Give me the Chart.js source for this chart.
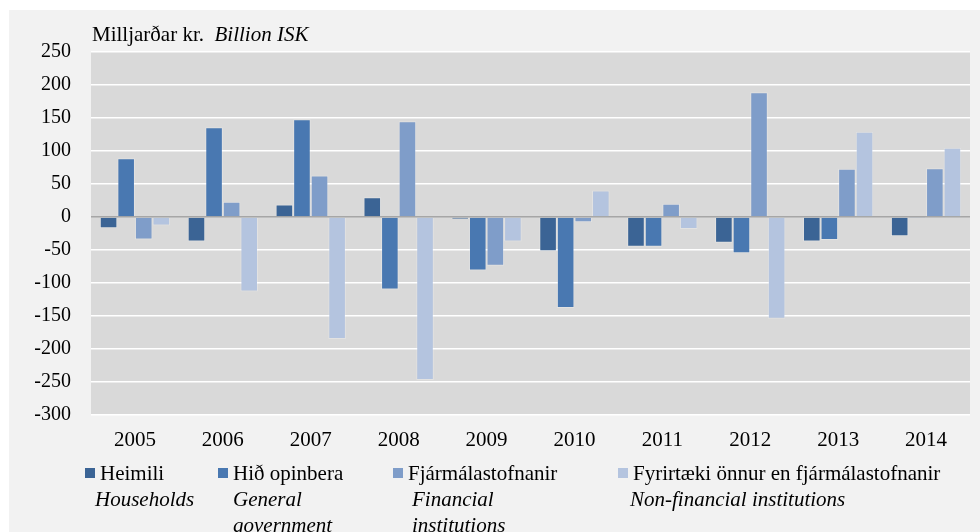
<!DOCTYPE html>
<html>
<head>
<meta charset="utf-8">
<script src="https://cdn.jsdelivr.net/npm/chart.js@4"></script>
<style>
  html, body { margin: 0; padding: 0; background: #ffffff; }
  #wrap { width: 980px; height: 532px; position: relative; }
</style>
</head>
<body>
<div id="wrap"><canvas id="flowChart" width="980" height="532"></canvas></div>
<script>
const years = ['2005', '2006', '2007', '2008', '2009', '2010', '2011', '2012', '2013', '2014'];

const households = [-17, -37, 19, 30, -3, -52, -45, -39, -37, -29];
const government = [89, 136, 148, -110, -81, -138, -45, -55, -35, -2];
const financial = [-34, 23, 63, 145, -74, -8, 20, 189, 73, 74];
const nonFinancial = [-13, -113, -185, -247, -37, 40, -18, -154, 129, 105];

const seriesIs = ['Heimili', 'Hið opinbera', 'Fjármálastofnanir', 'Fyrirtæki önnur en fjármálastofnanir'];
const seriesEn = [['Households'], ['General', 'government'], ['Financial', 'institutions'], ['Non-financial institutions']];
const colors = ['#3b6495', '#4978b1', '#7f9dc9', '#b4c4df'];

const yMin = -300;
const yMax = 250;
const yStep = 50;

const serif = '"Liberation Serif", "Times New Roman", serif';

// backgrounds: grey panel + darker plot area
const backdrop = {
    id: 'backdrop',
    beforeDraw(chart) {
        const c = chart.ctx;
        const a = chart.chartArea;
        c.save();
        c.fillStyle = '#ffffff';
        c.fillRect(0, 0, chart.width, chart.height);
        c.fillStyle = '#f2f2f2';
        c.fillRect(9, 10, chart.width - 9, chart.height - 10);
        c.fillStyle = '#d9d9d9';
        c.fillRect(a.left, a.top, a.right - a.left, a.bottom - a.top);
        c.restore();
    },
    afterDraw(chart) {
        const c = chart.ctx;
        c.save();
        c.fillStyle = '#000000';
        c.textBaseline = 'middle';
        // unit label
        c.font = '21px ' + serif;
        c.fillText('Milljarðar kr.', 92, 35);
        const w = c.measureText('Milljarðar kr.  ').width;
        c.font = 'italic 21px ' + serif;
        c.fillText('Billion ISK', 92 + w, 35);

        // legend with two languages
        const colX = [85, 218, 393, 618];
        const enIndent = [10, 15, 19, 12];
        seriesIs.forEach((name, i) => {
            c.fillStyle = colors[i];
            c.fillRect(colX[i], 468, 10, 10);
            c.fillStyle = '#000000';
            c.font = '21px ' + serif;
            c.fillText(name, colX[i] + 15, 474);
            c.font = 'italic 21px ' + serif;
            seriesEn[i].forEach((line, j) => {
                c.fillText(line, colX[i] + enIndent[i], 500 + j * 26);
            });
        });
        c.restore();
    }
};

const datasets = [households, government, financial, nonFinancial].map((vals, i) => ({
    label: seriesIs[i],
    data: vals,
    backgroundColor: colors[i],
    borderColor: 'rgba(255,255,255,0.25)',
    borderWidth: 1,
    categoryPercentage: 0.8,
    barPercentage: 1.0
}));

const ctx = document.getElementById('flowChart').getContext('2d');
const flowChart = new Chart(ctx, {
    type: 'bar',
    data: {
        labels: years,
        datasets: datasets
    },
    options: {
        responsive: false,
        animation: false,
        layout: {
            padding: { top: 52, right: 10, bottom: 0, left: 0 }
        },
        plugins: {
            legend: { display: false },
            tooltip: { enabled: false }
        },
        scales: {
            x: {
                grid: { display: false },
                border: { display: false },
                ticks: {
                    color: '#000000',
                    font: { family: serif, size: 21 },
                    padding: 5,
                    maxRotation: 0
                },
                afterFit(scale) { scale.height = 117; }
            },
            y: {
                min: yMin,
                max: yMax,
                grid: {
                    drawTicks: false,
                    lineWidth: 1.6,
                    color: (c) => c.tick && c.tick.value === 0 ? '#a6a6a6' : '#ffffff'
                },
                border: { display: false },
                ticks: {
                    stepSize: yStep,
                    color: '#000000',
                    font: { family: serif, size: 20 },
                    padding: 20
                },
                afterFit(scale) { scale.width = 91; }
            }
        }
    },
    plugins: [backdrop]
});
</script>
</body>
</html>
